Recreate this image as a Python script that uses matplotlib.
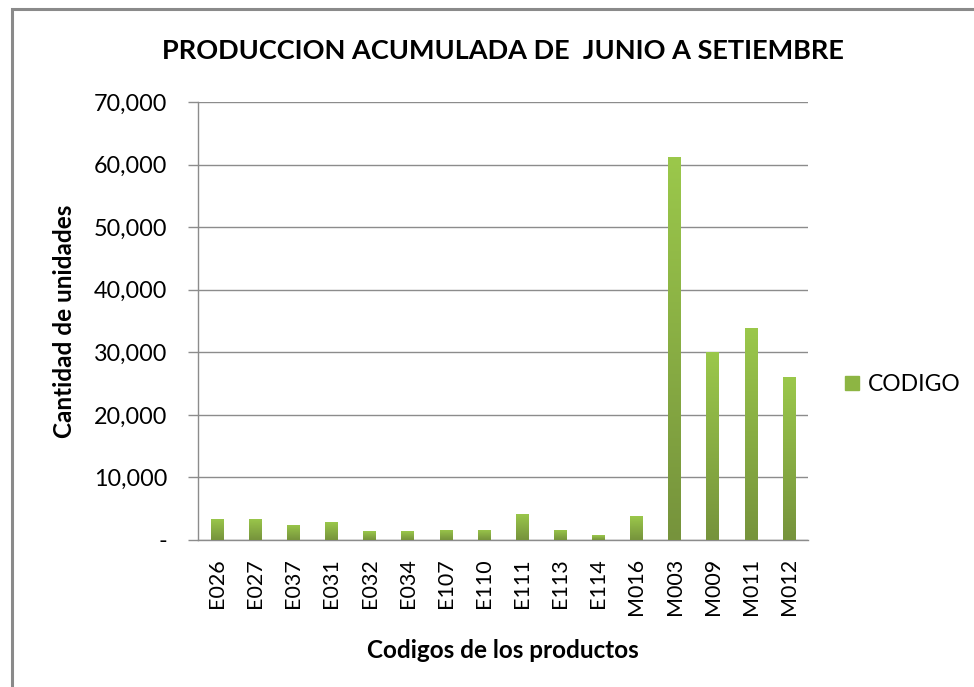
import numpy as np
import matplotlib
matplotlib.use("Agg")
import matplotlib.pyplot as plt
from matplotlib.colors import LinearSegmentedColormap
from matplotlib.patches import Rectangle
from matplotlib.ticker import FuncFormatter, MultipleLocator

plt.rcParams["font.family"] = ["Lato", "DejaVu Sans"]

# Datos: produccion acumulada por codigo de producto
codigos = ["E026", "E027", "E037", "E031", "E032", "E034", "E107", "E110",
           "E111", "E113", "E114", "M016", "M003", "M009", "M011", "M012"]
cantidades = [3400, 3400, 2400, 2800, 1400, 1400, 1600, 1600,
              4200, 1600, 750, 3800, 61200, 30100, 33900, 26000]

serie = "CODIGO"
titulo = "PRODUCCION ACUMULADA DE  JUNIO A SETIEMBRE"

fig = plt.figure(figsize=(9.74, 6.87), dpi=100)
ax = fig.add_axes([0.2033, 0.2140, 0.6263, 0.6375])

# degradado verde (oscuro abajo, claro arriba)
cmap = LinearSegmentedColormap.from_list("verde", ["#76933C", "#9BC84B"])
grad = np.linspace(0, 1, 256).reshape(-1, 1)

x = np.arange(len(codigos))
bars = ax.bar(x, cantidades, width=0.33, color="#8DB543", edgecolor="none",
              zorder=2, label=serie)
for b in bars:
    x0, y0 = b.get_x(), b.get_y()
    w, h = b.get_width(), b.get_height()
    im = ax.imshow(grad, cmap=cmap, origin="lower", aspect="auto",
                   extent=[x0, x0 + w, y0, y0 + h], zorder=3)
    im.set_clip_path(b)

ax.set_xlim(-0.5, len(codigos) - 0.5)
ax.set_ylim(0, 70000)
ax.yaxis.set_major_locator(MultipleLocator(10000))
ax.yaxis.set_major_formatter(FuncFormatter(lambda v, p: "-" if v == 0 else f"{int(v):,}"))
ax.grid(axis="y", color="#8C8C8C", linewidth=1.0, zorder=0)

ax.set_xticks(x)
ax.set_xticklabels(codigos, rotation=90, fontsize=15.5)
ax.tick_params(axis="x", length=0, pad=13)
ax.tick_params(axis="y", length=7, width=1, color="#8C8C8C", labelsize=16.8, pad=15)

for s in ["top", "right"]:
    ax.spines[s].set_visible(False)
for s in ["left", "bottom"]:
    ax.spines[s].set_color("#8C8C8C")
    ax.spines[s].set_linewidth(1.0)

ax.set_title(titulo, fontsize=19.5, fontweight="bold", pad=31)
ax.set_ylabel("Cantidad de unidades", fontsize=17.5, fontweight="bold", labelpad=13)
ax.set_xlabel("Codigos de los productos", fontsize=17.5, fontweight="bold", labelpad=17)

handle = Rectangle((0, 0), 1, 1, color="#8DB543")
ax.legend([handle], [serie], loc="center left", bbox_to_anchor=(1.027, 0.355),
          frameon=False, fontsize=16.5, handlelength=0.6, handleheight=0.6,
          handletextpad=0.4)

# marco del grafico (solo borde izquierdo y superior visibles)
fig.patches.append(Rectangle((12 / 974, -0.1), 1.2, 1 - 9 / 687 + 0.1,
                             transform=fig.transFigure, fill=False,
                             edgecolor="#8A8A8A", linewidth=2.2))

fig.savefig("out.png", dpi=100)
